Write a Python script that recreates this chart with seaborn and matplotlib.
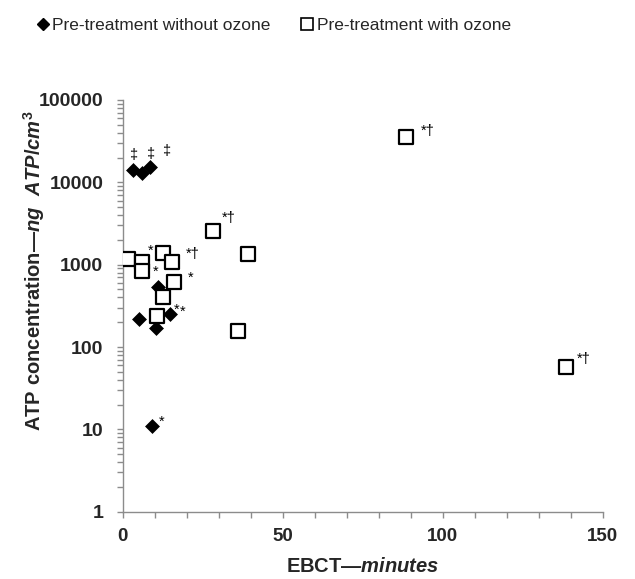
import matplotlib
matplotlib.use("Agg")
import matplotlib.pyplot as plt
from matplotlib.lines import Line2D
from matplotlib.ticker import LogLocator, NullFormatter, MultipleLocator
import seaborn as sns
import pandas as pd

# EBCT (minutes) and ATP concentration (ng ATP/cm3)
no_ozone_ebct = [3.3, 6.0, 8.5, 11.0, 5.1, 10.4, 14.8, 9.2]
no_ozone_atp = [14000, 13000, 15500, 540, 220, 170, 250, 11]
no_ozone_marks = ["‡", "‡", "‡", "", "", "", "*", "*"]

ozone_ebct = [1.7, 6.0, 6.0, 12.7, 15.3, 16.1, 12.7, 10.8, 28.3, 39.2, 36.0, 88.5, 138.4]
ozone_atp = [1180, 1080, 830, 1390, 1080, 620, 400, 240, 2600, 1330, 155, 36000, 57]
ozone_marks = ["", "*", "*", "", "*†", "*", "", "*", "*†", "", "", "*†", "*†"]

legend_labels = ["Pre-treatment without ozone", "Pre-treatment with ozone"]

# label offsets (points) for the significance marks
no_ozone_off = [(-3, 11), (3, 14), (9, 11), (0, 0), (0, 0), (0, 0), (7, 2), (5, 3)]
ozone_off = [(0, 0), (4, 8), (8, 0), (0, 0), (10, 6), (10, 3), (0, 0), (12, 4),
             (6, 9), (0, 0), (0, 0), (11, 4), (8, 6)]

sns.set_style("white")
plt.rcParams["font.family"] = ["Liberation Sans", "DejaVu Sans"]
plt.rcParams["mathtext.fontset"] = "custom"
plt.rcParams["mathtext.rm"] = "Liberation Sans:bold"
plt.rcParams["mathtext.bf"] = "Liberation Sans:bold"
plt.rcParams["mathtext.it"] = "Liberation Sans:bold:italic"

df_a = pd.DataFrame({"ebct": no_ozone_ebct, "atp": no_ozone_atp})
df_b = pd.DataFrame({"ebct": ozone_ebct, "atp": ozone_atp})

fig = plt.figure(figsize=(6.35, 5.79), dpi=100)
ax = fig.add_axes([0.1932, 0.1162, 0.7560, 0.7111])

sns.scatterplot(data=df_a, x="ebct", y="atp", ax=ax, marker="D", s=50,
                color="black", edgecolor="black", linewidth=0.5, zorder=3)
sns.scatterplot(data=df_b, x="ebct", y="atp", ax=ax, marker="s", s=95,
                facecolor="white", edgecolor="black", linewidth=1.6, zorder=4)

for xs, ys, marks, offs in [(no_ozone_ebct, no_ozone_atp, no_ozone_marks, no_ozone_off),
                            (ozone_ebct, ozone_atp, ozone_marks, ozone_off)]:
    for x, y, m, (dx, dy) in zip(xs, ys, marks, offs):
        if m:
            ax.annotate(m, (x, y), xytext=(dx, dy), textcoords="offset points",
                        ha="left", va="center", fontsize=10.5, color="black",
                        zorder=5)

ax.set_yscale("log")
ax.set_xlim(0, 150)
ax.set_ylim(1, 100000)
ax.set_xticks([0, 50, 100, 150])
ax.xaxis.set_minor_locator(MultipleLocator(10))
ax.set_yticks([1, 10, 100, 1000, 10000, 100000])
ax.set_yticklabels(["1", "10", "100", "1000", "10000", "100000"])
ax.yaxis.set_minor_locator(LogLocator(base=10, subs=range(2, 10), numticks=20))
ax.yaxis.set_minor_formatter(NullFormatter())

grey = "#8c8c8c"
for side in ["top", "right"]:
    ax.spines[side].set_visible(False)
for side in ["left", "bottom"]:
    ax.spines[side].set_color(grey)
    ax.spines[side].set_linewidth(1.0)

ax.tick_params(axis="both", which="both", direction="out", color=grey,
               length=4, width=1.0)
ax.tick_params(axis="x", which="both", bottom=True, pad=8, labelsize=13.5)
ax.tick_params(axis="y", which="both", left=True, pad=10, labelsize=14)
for lab in ax.get_xticklabels() + ax.get_yticklabels():
    lab.set_fontweight("bold")

ax.set_xlabel(r"$\mathbf{EBCT—}\mathit{minutes}$", fontsize=14.5)
ax.xaxis.set_label_coords(0.5, -0.11)
ax.set_ylabel(r"$\mathbf{ATP\ concentration—}\mathit{ng\ \ ATP/cm}^{\mathit{3}}$",
              fontsize=14.5)
ax.yaxis.set_label_coords(-0.158, 0.585)

handles = [
    Line2D([], [], ls="none", marker="D", ms=6, color="black"),
    Line2D([], [], ls="none", marker="s", ms=8, mfc="white", mec="black", mew=1.2),
]
fig.legend(handles, legend_labels, loc="upper left", bbox_to_anchor=(0.0425, 0.981),
           ncol=2, frameon=False, fontsize=12.5, handletextpad=0.05,
           columnspacing=1.6, handlelength=1.0, borderaxespad=0)

fig.savefig("out.png", dpi=100, facecolor="white")
